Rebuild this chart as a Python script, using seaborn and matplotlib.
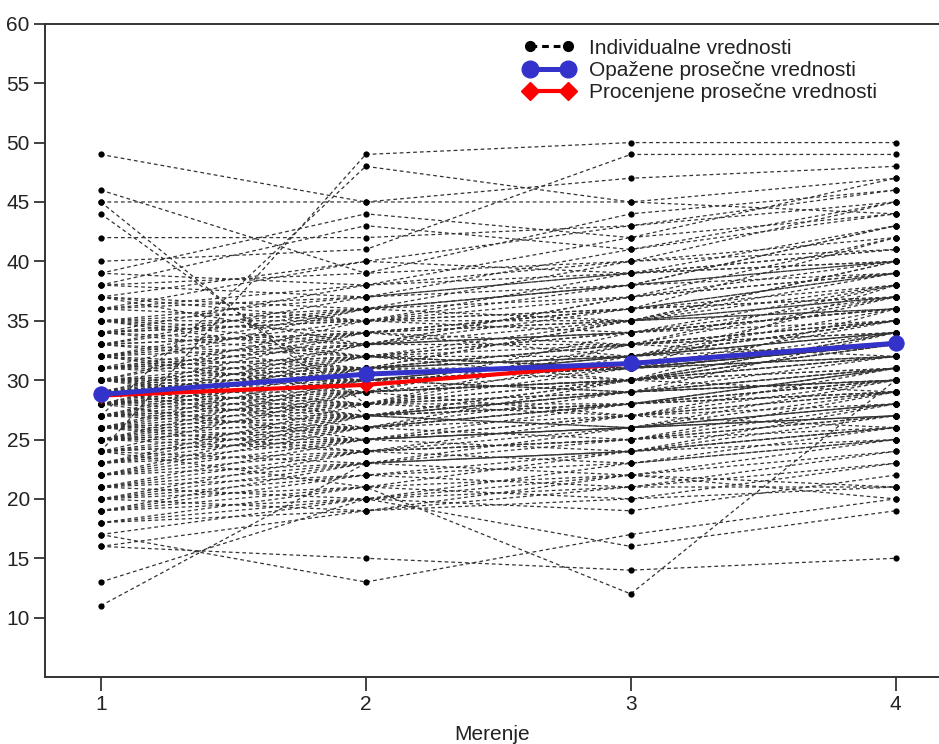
import numpy as np
import pandas as pd
import matplotlib
matplotlib.use("Agg")
import matplotlib.pyplot as plt
import seaborn as sns
from matplotlib.lines import Line2D

merenja = [1, 2, 3, 4]

merenje1 = [49,46,45,44,45,42,24,27,40,39, 38,37,36,35,35,34,34,33,33,32,
            32,31,31,30,30,30,29,29,29,28, 28,28,27,27,27,26,26,26,25,25,
            25,24,24,23,23,22,22,21,21,20, 20,19,19,18,18,17,16,16,13,11,
            17,24,31,32,30,29,28,27,33,34, 35,36,37,38,30,31,29,28,27,26,
            25,24,23,22,21,20,19,33,32,34, 36,29,26,31,28,30,35,32,37,25,
            30,31,29,28,27,26,25,24,23,22, 33,34,32,31,30,29,28,27,26,25,
            36,35,20,21,19,18,22,23,24,26, 28,30,31,29,27,25,33,32,34,29,
            28,30,21,20,24,26,35,37,38,39]
merenje2 = [45,39,45,28,27,42,49,48,41,44, 43,40,38,37,36,35,33,36,34,35,
            31,33,32,34,30,29,31,32,28,30, 29,31,30,28,26,29,27,30,28,26,
            27,26,25,27,24,25,23,24,22,23, 21,22,20,21,19,20,19,15,20,23,
            13,21,31,33,31,30,28,29,32,36, 34,35,36,39,32,34,33,32,31,28,
            29,27,26,27,25,24,23,37,36,38, 40,27,25,30,27,28,32,29,33,24,
            31,32,29,30,28,27,26,25,25,24, 34,35,34,33,30,31,29,27,26,25,
            37,35,22,23,21,20,26,28,29,31, 33,35,36,34,32,30,31,30,32,26,
            25,27,20,19,23,24,33,35,37,38]
merenje3 = [47,44,45,33,30,43,50,45,49,42, 41,43,40,41,38,39,37,35,36,34,
            35,36,30,33,32,34,33,31,30,32, 27,33,29,31,28,30,28,32,27,29,
            30,25,28,26,27,24,26,25,23,22, 24,21,23,20,22,19,21,14,16,24,
            17,12,31,33,30,31,29,30,34,37, 36,35,38,40,35,32,34,31,32,29,
            31,29,28,28,26,26,24,39,38,42, 39,28,27,29,26,28,31,30,35,23,
            33,32,30,31,30,29,28,27,26,25, 35,36,35,34,31,32,30,29,28,26,
            39,37,24,25,22,21,30,32,33,35, 37,38,40,36,34,31,32,31,33,27,
            26,29,22,20,24,25,34,36,38,39]
merenje4 = [48,46,47,35,34,45,50,44,49,47, 44,46,42,45,43,41,40,39,42,38,
            37,39,36,37,35,36,34,38,33,35, 31,32,34,33,30,32,31,36,30,31,
            33,29,30,28,29,27,30,27,26,25, 28,24,25,23,20,22,21,15,19,26,
            20,30,33,35,31,32,31,33,36,39, 37,38,40,41,40,34,37,33,34,30,
            32,32,31,29,28,27,26,43,40,44, 41,29,26,30,29,31,35,29,36,25,
            35,34,31,33,32,31,30,29,28,27, 37,38,36,36,34,35,32,30,29,27,
            40,39,26,28,24,23,34,37,38,40, 42,43,45,39,36,33,33,32,34,28,
            27,30,21,21,25,26,35,37,39,40]

opazene = [28.8, 30.5, 31.4, 33.1]
procenjene = [28.7, 29.6, 31.4, 33.1]

legend_labels = ["Individualne vrednosti", "Opažene prosečne vrednosti",
                 "Procenjene prosečne vrednosti"]
x_label = "Merenje"
y_ticks = [10, 15, 20, 25, 30, 35, 40, 45, 50, 55, 60]

sns.set_style("ticks")
plt.rcParams["font.family"] = ["Liberation Sans", "DejaVu Sans"]

BLUE = "#3333cc"
RED = "#ff0000"
TXT = "#222222"

rows = []
for i, vals in enumerate(zip(merenje1, merenje2, merenje3, merenje4)):
    for m, v in zip(merenja, vals):
        rows.append({"id": i, "merenje": m, "vrednost": v})
df = pd.DataFrame(rows)

fig = plt.figure(figsize=(9.39, 7.44), dpi=100)
ax = fig.add_axes([0.048, 0.090, 0.951, 0.878])

sns.lineplot(data=df, x="merenje", y="vrednost", units="id", estimator=None,
             color="#333333", lw=0.9, linestyle=(0, (3, 2.4)),
             marker="o", markersize=4.5, markerfacecolor="black",
             markeredgecolor="black", markeredgewidth=0,
             legend=False, ax=ax, zorder=2)

sns.lineplot(x=merenja, y=procenjene, color=RED, lw=3.0, marker="D",
             markersize=7.5, markeredgecolor=RED, markerfacecolor=RED,
             estimator=None, legend=False, ax=ax, zorder=4)
sns.lineplot(x=merenja, y=opazene, color=BLUE, lw=3.6, marker="o",
             markersize=11, markeredgecolor=BLUE, markerfacecolor=BLUE,
             estimator=None, legend=False, ax=ax, zorder=5)

ax.set_xlim(0.79, 4.16)
ax.set_ylim(5, 60)
ax.set_xticks(merenja)
ax.set_xticklabels([str(m) for m in merenja])
ax.set_yticks(y_ticks)
ax.set_yticklabels([str(t) for t in y_ticks])

for s in ["left", "bottom", "top"]:
    ax.spines[s].set_color("#333333")
    ax.spines[s].set_linewidth(1.4)
ax.spines["right"].set_visible(False)

ax.tick_params(axis="y", direction="out", length=8, width=1.3,
               labelsize=15, colors="#333333", labelcolor=TXT, pad=3)
ax.tick_params(axis="x", direction="out", length=10, width=1.3,
               labelsize=15, colors="#333333", labelcolor=TXT, pad=3)

ax.set_xlabel(x_label, fontsize=15, color=TXT, labelpad=8)
ax.set_ylabel("")

handles = [
    Line2D([0], [0], color="black", lw=2.2, linestyle=(0, (2.2, 1.6)),
           marker="o", markersize=7, markerfacecolor="black",
           markeredgecolor="black"),
    Line2D([0], [0], color=BLUE, lw=3.6, marker="o", markersize=12,
           markerfacecolor=BLUE, markeredgecolor=BLUE),
    Line2D([0], [0], color=RED, lw=3.0, marker="D", markersize=9,
           markerfacecolor=RED, markeredgecolor=RED),
]
leg = ax.legend(handles, legend_labels, loc="upper left",
                bbox_to_anchor=(0.558, 0.948), bbox_transform=fig.transFigure,
                frameon=False, numpoints=2, fontsize=15, handlelength=2.4,
                handletextpad=0.7, labelspacing=0.15, borderpad=0,
                borderaxespad=0)
for t in leg.get_texts():
    t.set_color(TXT)

fig.savefig("out.png", dpi=100, facecolor="white")
